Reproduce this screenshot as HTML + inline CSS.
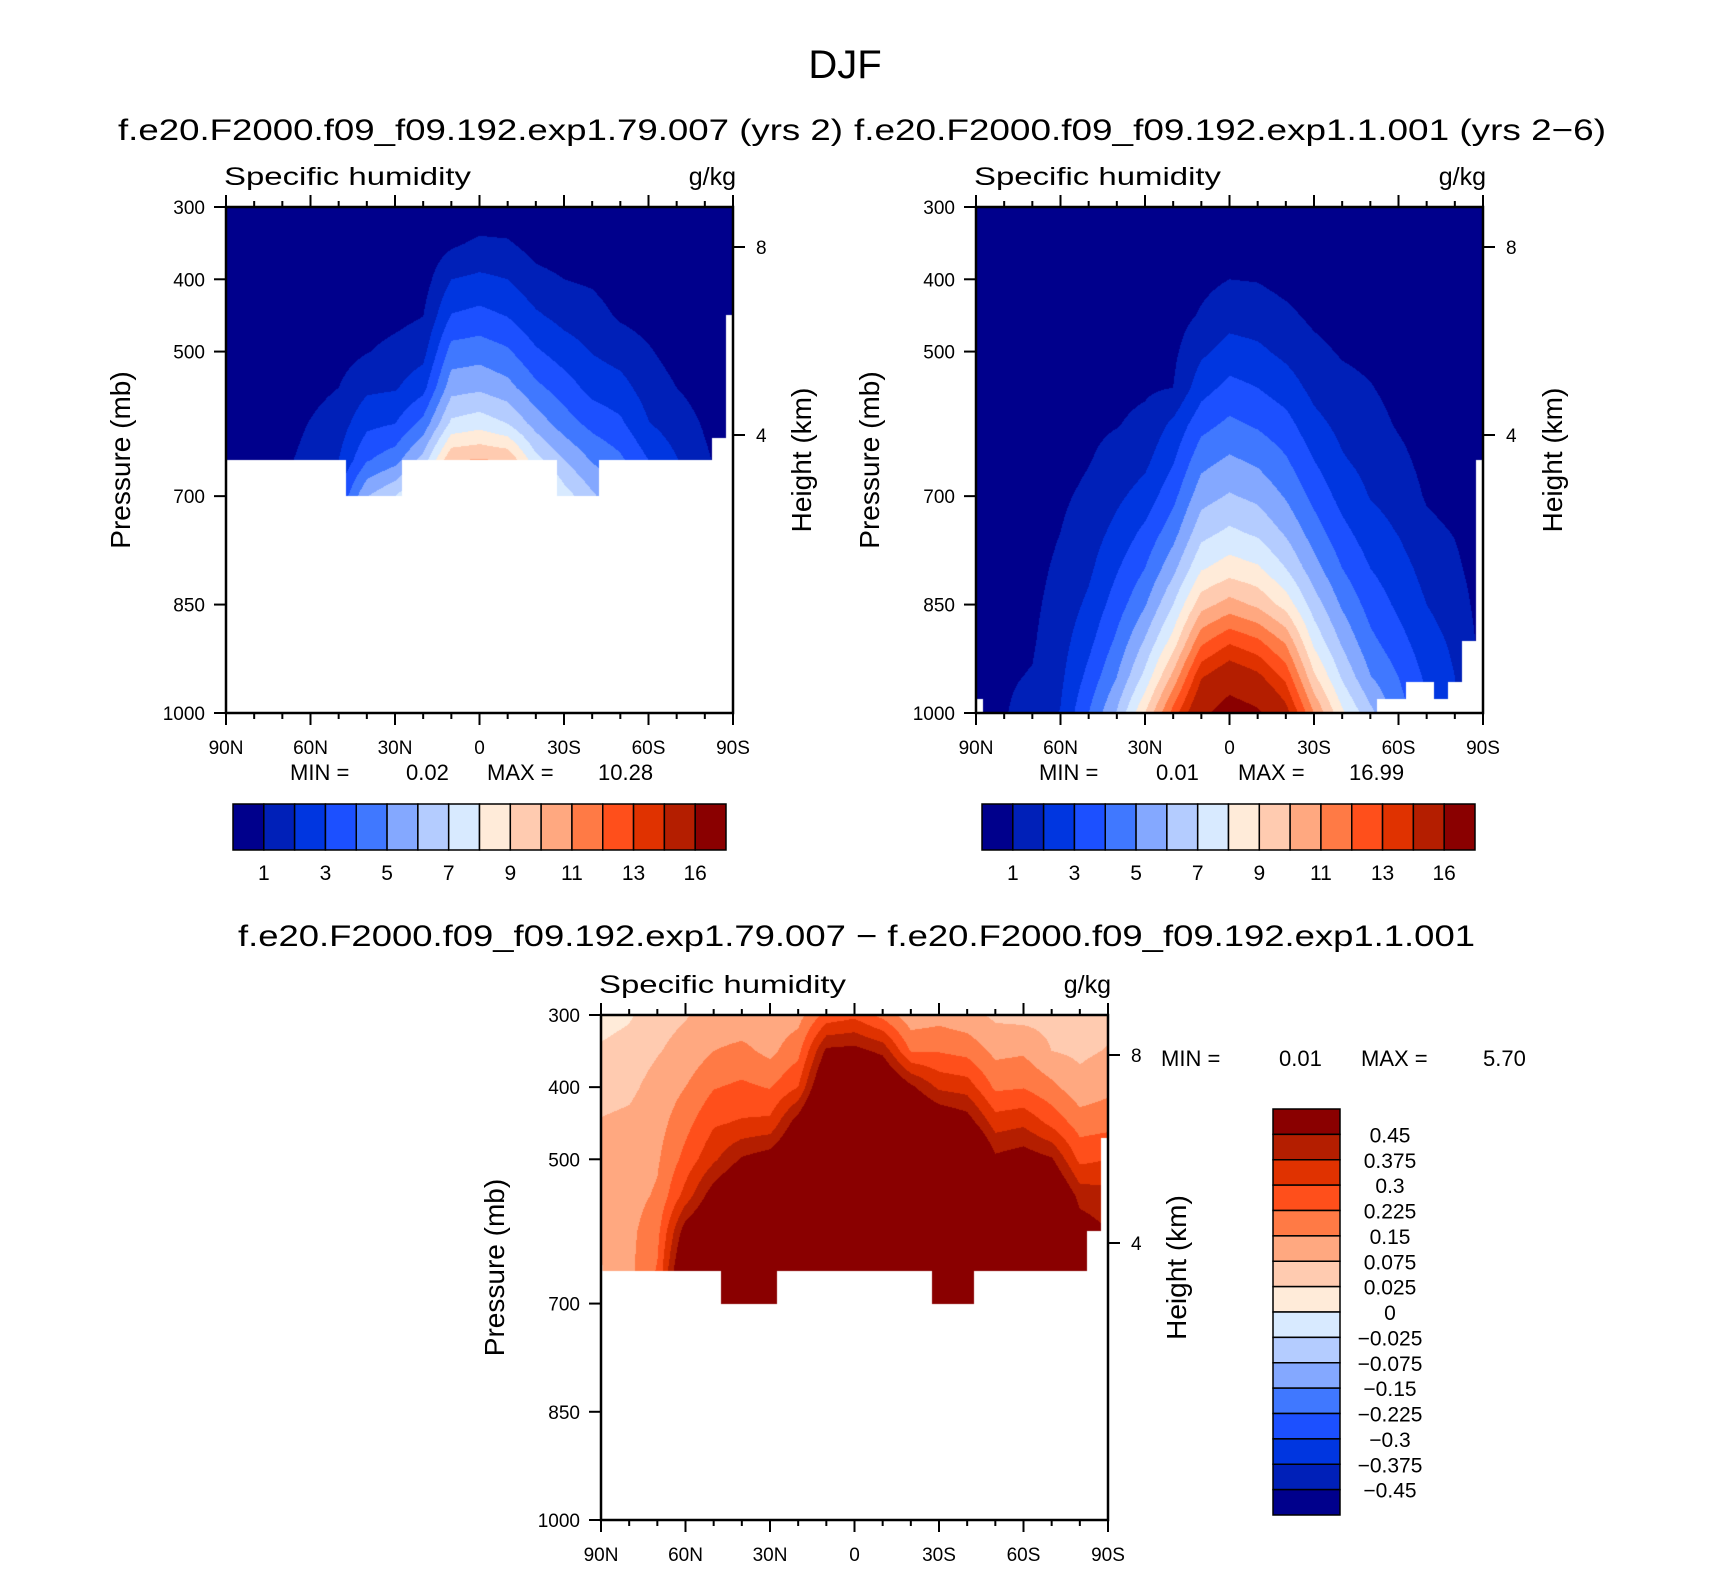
<!DOCTYPE html>
<html><head><meta charset="utf-8"><style>
html,body{margin:0;padding:0;background:#fff;}
#wrap{position:relative;width:1710px;height:1574px;overflow:hidden;font-family:"Liberation Sans",sans-serif;}
canvas{position:absolute;}
svg{position:absolute;left:0;top:0;}
</style></head><body>
<div id="wrap">
<canvas id="c1"></canvas>
<canvas id="c2"></canvas>
<canvas id="c3"></canvas>
<svg id="ov" width="1710" height="1574"></svg>
</div>
<script>
// ---- data ----
const lats = [90,80,70,60,50,40,30,20,10,0,-10,-20,-30,-40,-50,-60,-70,-80,-90];
const presShort = [300,350,400,450,500,550,600,650,700];
const presLong = [300,350,400,450,500,550,600,650,700,750,800,850,900,950,1000];
const levelsAbs = [1,2,3,4,5,6,7,8,9,10,11,12,13,14,16];
const levelsDiff = [-0.45,-0.375,-0.3,-0.225,-0.15,-0.075,-0.025,0,0.025,0.075,0.15,0.225,0.3,0.375,0.45];
const absTickLabels = ["1","3","5","7","9","11","13","16"];
const diffTickLabels = ["0.45","0.375","0.3","0.225","0.15","0.075","0.025","0","\u22120.025","\u22120.075","\u22120.15","\u22120.225","\u22120.3","\u22120.375","\u22120.45"];
const colors = ["#00008c","#0020b8","#0036e0","#1c50ff","#4078ff","#84a8ff","#b4ccff","#d8eaff","#ffebd9","#ffcbb0","#ffa880","#ff7a45","#ff4f1b","#e03200","#b41e00","#8a0000"];
const qExp = [
[0.05,0.05,0.05,0.1,0.1,0.1,0.15,0.15,0.2],
[0.05,0.05,0.1,0.1,0.15,0.2,0.25,0.3,0.35],
[0.05,0.05,0.1,0.15,0.25,0.4,0.6,0.8,0.9],
[0.05,0.1,0.2,0.35,0.5,0.7,1.05,1.3,1.6],
[0.05,0.1,0.2,0.4,0.6,1.0,1.5,2.0,3.0],
[0.1,0.2,0.35,0.55,0.95,1.8,2.75,3.9,5.95],
[0.1,0.2,0.4,0.7,1.3,1.9,3.0,4.6,7.0],
[0.1,0.3,0.55,0.98,1.65,2.65,4.35,6.4,8.5],
[0.2,0.8,2.0,3.05,4.4,5.6,7.25,9.9,11.5],
[0.2,1.2,2.2,3.3,4.55,5.8,7.6,10.1,12],
[0.3,1.1,2.0,2.95,4.15,5.35,7.0,9.9,12],
[0.2,0.6,1.3,2.15,3.15,4.25,5.6,7.35,9.5],
[0.1,0.5,1.0,1.65,2.5,3.5,4.5,6.0,7.5],
[0.1,0.4,0.85,1.4,1.95,2.65,3.7,4.9,6.2],
[0.1,0.3,0.5,0.85,1.6,2.35,3.2,4.2,5.0],
[0.1,0.2,0.4,0.6,1.1,1.55,2.05,3.0,3.5],
[0.05,0.1,0.2,0.4,0.6,1.0,1.5,2.05,2.5],
[0.05,0.1,0.2,0.3,0.4,0.6,0.9,1.15,1.3],
[0.05,0.05,0.1,0.15,0.2,0.3,0.4,0.5,0.6]];
const qCtl = [
[0.1,0.12,0.15,0.2,0.25,0.3,0.35,0.4,0.45,0.5,0.55,0.6,0.65,0.7,0.75],
[0.1,0.12,0.15,0.2,0.25,0.3,0.35,0.4,0.45,0.5,0.6,0.7,0.8,0.9,0.95],
[0.1,0.12,0.15,0.2,0.25,0.3,0.35,0.4,0.5,0.6,0.7,0.8,0.9,1.05,1.3],
[0.1,0.15,0.2,0.25,0.3,0.4,0.5,0.65,0.85,1.0,1.2,1.4,1.6,1.8,2.05],
[0.15,0.2,0.3,0.4,0.5,0.65,0.8,0.95,1.2,1.5,1.8,2.2,2.7,3.3,4.0],
[0.15,0.25,0.35,0.5,0.6,0.75,0.95,1.35,1.8,2.3,2.9,3.5,4.2,5.0,6.1],
[0.2,0.3,0.4,0.55,0.7,0.85,1.25,1.75,2.4,3.25,4.0,4.9,6.1,7.3,9.0],
[0.2,0.3,0.45,0.6,0.8,1.0,2.2,2.9,3.7,4.6,5.7,7.0,8.4,10.3,12.4],
[0.3,0.5,0.75,1.1,1.8,2.6,3.65,4.65,5.6,6.65,7.9,9.6,11.7,13.9,15.5],
[0.3,0.6,1.0,1.6,2.4,3.3,4.2,5.15,6.1,7.2,8.5,10.4,12.8,15,17],
[0.3,0.6,0.95,1.5,2.2,3.0,3.85,4.8,5.75,6.8,8.15,9.8,12.15,14.3,16.3],
[0.25,0.45,0.7,1.2,1.75,2.5,3.35,4.1,4.9,5.85,7.0,8.6,10.8,12.7,14.5],
[0.2,0.35,0.55,0.8,1.25,1.7,2.3,3.0,3.7,4.5,5.4,6.5,7.7,9.2,11],
[0.15,0.25,0.4,0.6,0.9,1.3,1.7,2.1,2.65,3.3,4.0,4.85,5.8,6.85,8.2],
[0.15,0.2,0.35,0.5,0.75,1.05,1.35,1.65,1.95,2.45,3.0,3.6,4.25,5.05,6.3],
[0.1,0.15,0.25,0.4,0.55,0.7,0.9,1.25,1.6,1.95,2.4,2.8,3.35,4.0,4.5],
[0.1,0.12,0.15,0.2,0.3,0.45,0.55,0.7,0.9,1.25,1.65,2.0,2.4,2.8,3.1],
[0.1,0.1,0.12,0.15,0.2,0.3,0.4,0.5,0.65,0.95,1.2,1.5,1.8,2.0,2.2],
[0.1,0.1,0.1,0.12,0.15,0.2,0.25,0.3,0.35,0.4,0.5,0.6,0.7,0.8,0.9]];
const qDiff = [
[0.01,0.03,0.05,0.08,0.1,0.11,0.1,0.07,0.07],
[0.02,0.04,0.06,0.09,0.11,0.12,0.13,0.13,0.13],
[0.05,0.07,0.1,0.12,0.14,0.16,0.2,0.23,0.25],
[0.07,0.1,0.15,0.2,0.25,0.33,0.5,0.6,0.6],
[0.1,0.15,0.22,0.29,0.36,0.5,0.6,0.7,0.7],
[0.1,0.17,0.24,0.31,0.46,0.6,0.7,0.7,0.7],
[0.1,0.13,0.22,0.32,0.5,0.6,0.7,0.7,0.7],
[0.12,0.2,0.3,0.5,0.6,0.7,0.7,0.7,0.7],
[0.25,0.47,0.6,0.7,0.7,0.7,0.7,0.7,0.7],
[0.28,0.48,0.6,0.7,0.7,0.7,0.7,0.7,0.7],
[0.2,0.43,0.6,0.7,0.7,0.7,0.7,0.7,0.7],
[0.1,0.22,0.47,0.6,0.7,0.7,0.7,0.7,0.7],
[0.12,0.22,0.36,0.55,0.7,0.7,0.7,0.7,0.7],
[0.1,0.2,0.34,0.5,0.7,0.7,0.7,0.7,0.7],
[0.06,0.13,0.21,0.34,0.47,0.6,0.7,0.7,0.7],
[0.05,0.14,0.22,0.36,0.5,0.6,0.7,0.7,0.7],
[0.05,0.075,0.17,0.28,0.46,0.6,0.7,0.7,0.7],
[0.03,0.06,0.1,0.19,0.28,0.42,0.5,0.55,0.55],
[0.05,0.08,0.13,0.2,0.3,0.4,0.45,0.5,0.5]];
// lowest valid pressure (mb) every 5 degrees from 90N to 90S
const bottomExp = [650,650,650,650,650,650,650,650,650,700,700,700,700,650,650,650,650,650,650,650,650,650,650,650,700,700,700,650,650,650,650,650,650,650,650,620,450];
const bottomCtl = [980,1000,1000,1000,1000,1000,1000,1000,1000,1000,1000,1000,1000,1000,1000,1000,1000,1000,1000,1000,1000,1000,1000,1000,1000,1000,1000,1000,1000,980,980,957,957,980,957,900,650];
const bottomDiff = [655,655,655,655,655,655,655,655,655,700,700,700,700,655,655,655,655,655,655,655,655,655,655,655,700,700,700,655,655,655,655,655,655,655,655,600,470];
const xTickLabels = ["90N","60N","30N","0","30S","60S","90S"];
const pTicks = [300,400,500,700,850,1000];
const hTicks = [8,4];
const minmax = [["0.02","10.28"],["0.01","16.99"],["0.01","5.70"]];

const panels = [
 {id:"c1",x0:226,x1:733,y0:207,y1:713,data:qExp,pres:presShort,levels:levelsAbs,bottom:bottomExp,name:"left"},
 {id:"c2",x0:976,x1:1483,y0:207,y1:713,data:qCtl,pres:presLong,levels:levelsAbs,bottom:bottomCtl,name:"right"},
 {id:"c3",x0:601,x1:1108,y0:1015,y1:1520,data:qDiff,pres:presShort,levels:levelsDiff,bottom:bottomDiff,name:"diff"}];
function hexRGB(h){return [parseInt(h.substr(1,2),16),parseInt(h.substr(3,2),16),parseInt(h.substr(5,2),16)];}
const rgb = colors.map(hexRGB);
function levelIndex(v,lv){let i=0;while(i<lv.length&&v>=lv[i])i++;return i;}
function interp(P,latFromN,p){
  const nl=P.data.length, ps=P.pres;
  let fi=latFromN/10; if(fi<0)fi=0; if(fi>nl-1)fi=nl-1;
  let i0=Math.min(Math.floor(fi),nl-2), tx=fi-i0;
  let pp=Math.max(ps[0],Math.min(ps[ps.length-1],p));
  let j0=0; while(j0<ps.length-2&&pp>ps[j0+1])j0++;
  let ty=(pp-ps[j0])/(ps[j0+1]-ps[j0]);
  const a=P.data[i0][j0],b=P.data[i0+1][j0],c=P.data[i0][j0+1],d=P.data[i0+1][j0+1];
  return (a*(1-tx)+b*tx)*(1-ty)+(c*(1-tx)+d*tx)*ty;
}
panels.forEach(P=>{
  const cv=document.getElementById(P.id);
  const W=P.x1-P.x0,H=P.y1-P.y0;
  cv.width=W;cv.height=H;cv.style.left=P.x0+"px";cv.style.top=P.y0+"px";
  const ctx=cv.getContext("2d");const img=ctx.createImageData(W,H);
  for(let y=0;y<H;y++){const p=300+(y+0.5)/H*700;
    for(let x=0;x<W;x++){const lat=(x+0.5)/W*180;
      const k=(y*W+x)*4;
      const bi=Math.round(lat/5);
      if(p>P.bottom[bi]){img.data[k]=255;img.data[k+1]=255;img.data[k+2]=255;img.data[k+3]=255;continue;}
      const v=interp(P,lat,p);const c=rgb[levelIndex(v,P.levels)];
      img.data[k]=c[0];img.data[k+1]=c[1];img.data[k+2]=c[2];img.data[k+3]=255;}}
  ctx.putImageData(img,0,0);
});

const svg=document.getElementById("ov");const NS="http://www.w3.org/2000/svg";
function el(tag,attrs,txt){const e=document.createElementNS(NS,tag);for(const k in attrs)e.setAttribute(k,attrs[k]);if(txt!==undefined)e.textContent=txt;svg.appendChild(e);return e;}
function text(x,y,s,size,anchor,name,extra){const t=el("text",Object.assign({x:x,y:y,"font-size":size,"text-anchor":anchor||"start",fill:"#000","font-family":"Liberation Sans, sans-serif"},extra||{}),s);
  
  
  return t;}
function line(x1,y1,x2,y2,w,name){const l=el("line",{x1:x1,y1:y1,x2:x2,y2:y2,stroke:"#000","stroke-width":w||2});
  
  
  return l;}

text(845,78,"DJF",40,"middle","figure-title");
text(118,140,"f.e20.F2000.f09_f09.192.exp1.79.007 (yrs 2)",30,"start","left-panel-title",{textLength:725,lengthAdjust:"spacingAndGlyphs"});
text(854,140,"f.e20.F2000.f09_f09.192.exp1.1.001 (yrs 2\u22126)",30,"start","right-panel-title",{textLength:752,lengthAdjust:"spacingAndGlyphs"});
text(238,946,"f.e20.F2000.f09_f09.192.exp1.79.007 \u2212 f.e20.F2000.f09_f09.192.exp1.1.001",30,"start","diff-panel-title",{textLength:1237,lengthAdjust:"spacingAndGlyphs"});

const pTitleX=[[120,801],[869,1552],[494,1176]];
const mmPos=[[290,406,487,598,771],[1039,1156,1238,1349,771],[1161,1279,1361,1483,1057]];
panels.forEach((P,pi)=>{
  const W=P.x1-P.x0,H=P.y1-P.y0;
  const py=p=>P.y0+(p-300)/700*H;
  const lx=i=>P.x0+i/180*W;
  const r=el("rect",{x:P.x0,y:P.y0,width:W,height:H,fill:"none",stroke:"#000","stroke-width":2.5});
  
  
  text(P.x0-2,P.y0-22,"Specific humidity",25,"start",P.name+"-variable-label",{textLength:247,lengthAdjust:"spacingAndGlyphs"});
  text(P.x1+3,P.y0-22,"g/kg",25,"end",P.name+"-units-label");
  for(let d=0;d<=180;d+=10){const x=lx(d);const major=d%30===0;
    line(x,P.y0,x,P.y0-(major?12:6),2,P.name+"-top-tick");
    line(x,P.y1,x,P.y1+(major?12:6),2,P.name+"-bottom-tick");}
  xTickLabels.forEach((s,i)=>text(lx(i*30),P.y1+41,s,19,"middle",P.name+"-x-tick-label"));
  pTicks.forEach(p=>{line(P.x0,py(p),P.x0-12,py(p),2,P.name+"-y-tick");
    text(P.x0-21,py(p)+7,String(p),19,"end",P.name+"-y-tick-label");});
  const hy={8:P.y0+40,4:P.y0+228};
  hTicks.forEach(h=>{line(P.x1,hy[h],P.x1+12,hy[h],2,P.name+"-height-tick");
    text(P.x1+23,hy[h]+7,String(h),19,"start",P.name+"-height-tick-label");});
  const cy=(P.y0+P.y1)/2;
  text(pTitleX[pi][0],cy,"Pressure (mb)",28,"middle",P.name+"-y-axis-title",{transform:`rotate(-90 ${pTitleX[pi][0]} ${cy})`,dy:"10"});
  text(pTitleX[pi][1],cy,"Height (km)",28,"middle",P.name+"-height-axis-title",{transform:`rotate(-90 ${pTitleX[pi][1]} ${cy})`,dy:"10"});
  const m=mmPos[pi];
  text(m[0],m[4]+9,"MIN =",22,"start",P.name+"-min-label");
  text(m[1],m[4]+9,minmax[pi][0],22,"start",P.name+"-min-value");
  text(m[2],m[4]+9,"MAX =",22,"start",P.name+"-max-label");
  text(m[3],m[4]+9,minmax[pi][1],22,"start",P.name+"-max-value");
});
[[233,726,"left"],[982,1475,"right"]].forEach(cb=>{
  const w=(cb[1]-cb[0])/colors.length;
  colors.forEach((c,i)=>{const r=el("rect",{x:cb[0]+i*w,y:804,width:w,height:46,fill:c,stroke:"#000","stroke-width":1.5});
    
    });
  absTickLabels.forEach((s,i)=>text(cb[0]+(2*i+1)*w,880,s,21,"middle",cb[2]+"-colorbar-label"));
});
{const x0=1273,x1=1340,y0=1109,y1=1515;const h=(y1-y0)/colors.length;
  for(let i=0;i<colors.length;i++){const r=el("rect",{x:x0,y:y0+i*h,width:x1-x0,height:h,fill:colors[colors.length-1-i],stroke:"#000","stroke-width":1.5});
    
    }
  diffTickLabels.forEach((s,i)=>text(1390,y0+(i+1)*h+8,s,21,"middle","diff-colorbar-label"));
}
</script>
</body></html>
